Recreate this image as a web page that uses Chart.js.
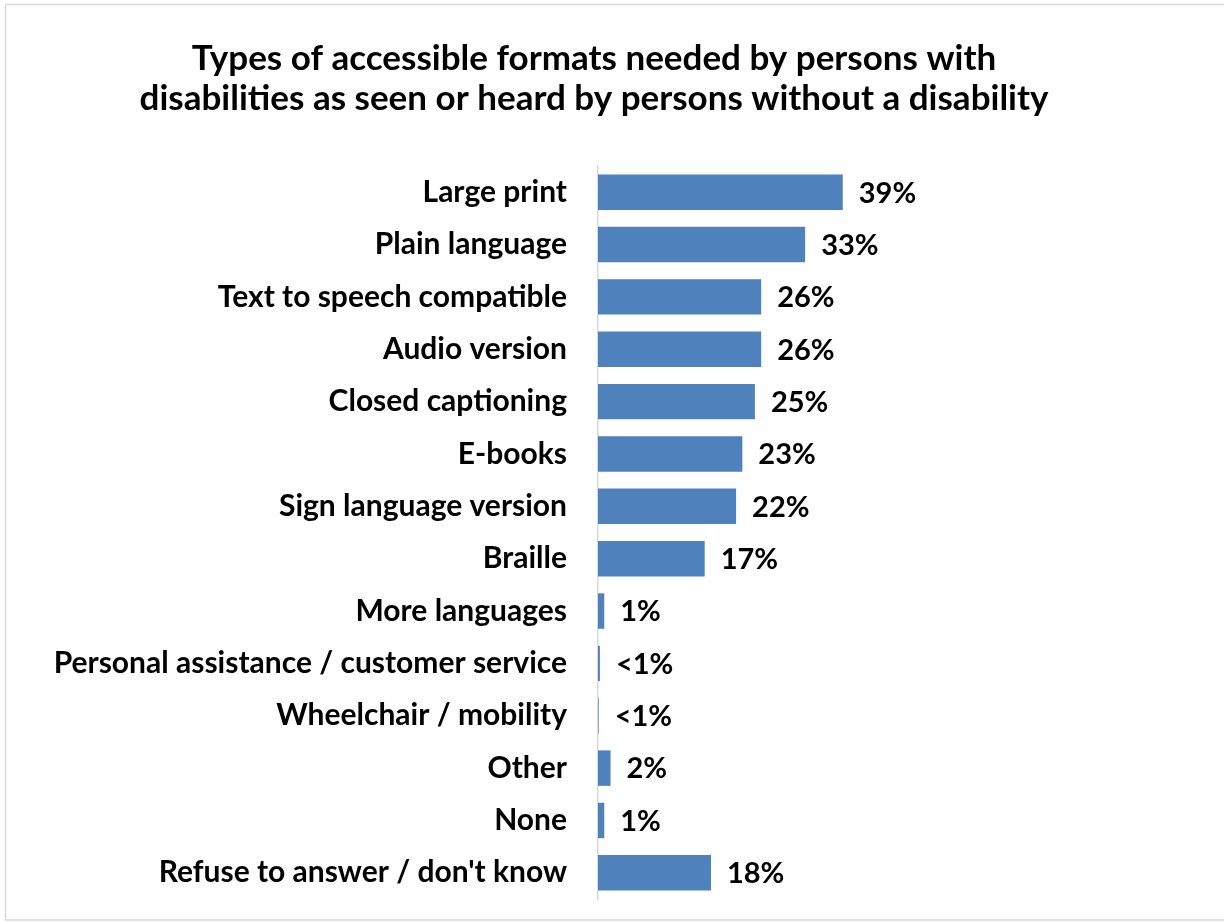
<!DOCTYPE html>
<html>
<head>
<meta charset="utf-8">
<title>Types of accessible formats</title>
<script src="https://cdn.jsdelivr.net/npm/chart.js@4.4.1/dist/chart.umd.min.js"></script>
<style>
  html, body { margin: 0; padding: 0; background: #ffffff; }
  #wrap { position: relative; width: 1224px; height: 922px; }
</style>
</head>
<body>
<div id="wrap"><canvas id="chart" width="1224" height="922"></canvas></div>
<script>
// Survey responses (% of persons without a disability)
const categories = [
  "Large print",
  "Plain language",
  "Text to speech compatible",
  "Audio version",
  "Closed captioning",
  "E-books",
  "Sign language version",
  "Braille",
  "More languages",
  "Personal assistance / customer service",
  "Wheelchair / mobility",
  "Other",
  "None",
  "Refuse to answer / don't know"
];
const shares = [39, 33, 26, 26, 25, 23, 22, 17, 1, 0.3, 0.1, 2, 1, 18];
const shareLabels = ["39%", "33%", "26%", "26%", "25%", "23%", "22%", "17%", "1%", "<1%", "<1%", "2%", "1%", "18%"];
const titleLines = [
  "Types of accessible formats needed by persons with",
  "disabilities as seen or heard by persons without a disability"
];

const FONT = "Lato, 'Liberation Sans', sans-serif";
const BAR_BLUE = "#4F81BD";

// thin grey frame around the whole figure
const framePlugin = {
  id: "frame",
  beforeDraw(chart) {
    const ctx = chart.ctx;
    ctx.save();
    ctx.fillStyle = "#ffffff";
    ctx.fillRect(0, 0, chart.width, chart.height);
    ctx.strokeStyle = "#d9d9d9";
    ctx.lineWidth = 1.5;
    ctx.strokeRect(5.5, 4.5, chart.width + 10, 915.5);
    ctx.restore();
  }
};

// percentage text to the right of each bar
const valueLabelPlugin = {
  id: "valueLabels",
  afterDatasetsDraw(chart) {
    const ctx = chart.ctx;
    const meta = chart.getDatasetMeta(0);
    const xScale = chart.scales.x;
    ctx.save();
    ctx.font = "bold 29px " + FONT;
    ctx.fillStyle = "#000000";
    ctx.textAlign = "left";
    ctx.textBaseline = "middle";
    meta.data.forEach((bar, i) => {
      const end = Math.max(bar.x, xScale.getPixelForValue(0));
      ctx.fillText(shareLabels[i], end + 16, bar.y + 1);
    });
    ctx.restore();
  }
};

function draw() {
  new Chart(document.getElementById("chart"), {
    type: "bar",
    data: {
      labels: categories,
      datasets: [{
        data: shares,
        backgroundColor: BAR_BLUE,
        borderWidth: 0,
        barPercentage: 0.677,
        categoryPercentage: 1.0
      }]
    },
    plugins: [framePlugin, valueLabelPlugin],
    options: {
      indexAxis: "y",
      responsive: false,
      animation: false,
      events: [],
      layout: { padding: { left: 0, right: 36, top: 0, bottom: 23 } },
      plugins: {
        legend: { display: false },
        tooltip: { enabled: false },
        title: {
          display: true,
          text: titleLines,
          color: "#000000",
          font: { family: FONT, size: 35, weight: "bold", lineHeight: 1.143 },
          padding: { top: 39, bottom: 47 }
        }
      },
      scales: {
        x: {
          display: false,
          min: 0,
          max: 94
        },
        y: {
          afterFit(scale) {
            scale.width = 598;
            scale.paddingTop = 0;
            scale.paddingBottom = 0;
          },
          grid: { display: false, drawTicks: false },
          border: { display: true, color: "#d9d9d9", width: 1.5 },
          ticks: {
            color: "#000000",
            padding: 31,
            autoSkip: false,
            font: { family: FONT, size: 30, weight: "bold" }
          }
        }
      }
    }
  });
}

if (document.fonts && document.fonts.load) {
  Promise.all([
    document.fonts.load("bold 30px Lato"),
    document.fonts.load("bold 35px Lato")
  ]).then(draw, draw);
} else {
  draw();
}
</script>
</body>
</html>
